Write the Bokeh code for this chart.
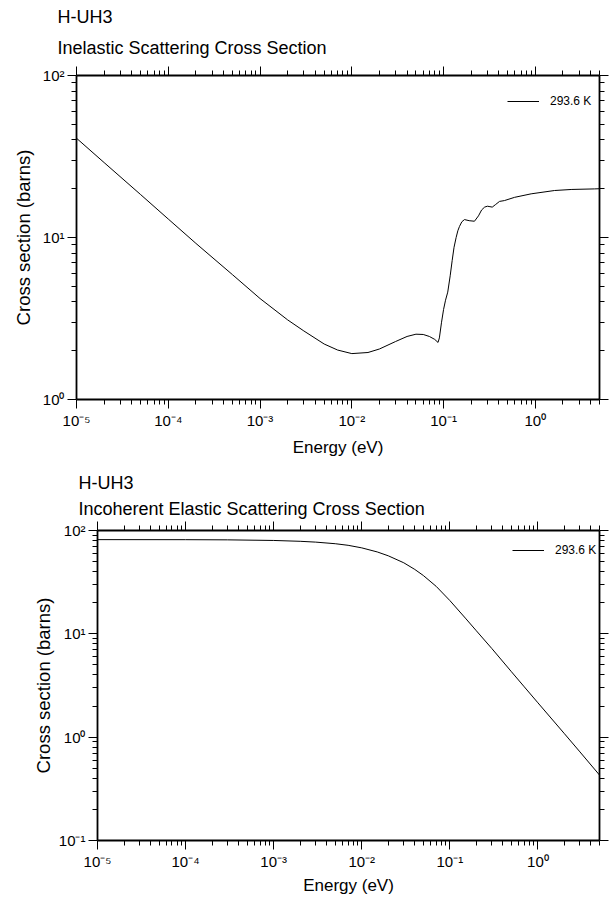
from bokeh.plotting import figure
from bokeh.models import (FixedTicker, Range1d, Legend, LegendItem, Title,
                          LogAxis, CustomJSTickFormatter)
from bokeh.embed import file_html
from bokeh.resources import INLINE

FONT = "Liberation Sans"

material = "H-UH3"
title_inel = "Inelastic Scattering Cross Section"
title_el = "Incoherent Elastic Scattering Cross Section"
x_label = "Energy (eV)"
y_label = "Cross section (barns)"
temp_label = "293.6 K"

# Inelastic scattering cross section (barns) vs energy (eV)
energy_inel = [1e-5, 2e-5, 5e-5, 1e-4, 2e-4, 5e-4, 1e-3, 2e-3, 3e-3, 5e-3,
               7e-3, 1e-2, 1.5e-2, 2e-2, 3e-2, 4e-2, 5e-2, 6e-2, 7e-2, 8e-2,
               0.087, 0.09, 0.095, 0.1, 0.105, 0.111, 0.118, 0.124, 0.13, 0.137,
               0.143, 0.149, 0.158, 0.169, 0.19, 0.217, 0.24, 0.26, 0.28, 0.30,
               0.32, 0.339, 0.37, 0.407, 0.46, 0.594, 0.9, 1.62, 2.5, 4.4, 5.0]
sigma_inel = [41.0, 29.0, 18.4, 13.0, 9.2, 5.9, 4.2, 3.1, 2.65, 2.2,
              2.02, 1.92, 1.95, 2.05, 2.28, 2.45, 2.53, 2.52, 2.45, 2.35,
              2.25, 2.4, 3.0, 3.6, 4.1, 4.6, 5.8, 7.2, 8.7, 10.0,
              11.0, 11.7, 12.5, 12.9, 12.7, 12.6, 13.6, 14.8, 15.4, 15.6,
              15.5, 15.4, 16.0, 16.7, 16.9, 17.7, 18.6, 19.5, 19.8, 19.95, 20.0]

# Incoherent elastic scattering cross section (barns) vs energy (eV)
energy_el = [1e-5, 1e-4, 3e-4, 1e-3, 2e-3, 3e-3, 5e-3, 7e-3, 1e-2, 1.5e-2,
             2e-2, 3e-2, 4e-2, 5e-2, 7e-2, 0.1, 0.15, 0.2, 0.3, 0.5,
             0.7, 1.0, 2.0, 3.0, 5.0]
sigma_el = [81.6, 81.5, 81.2, 80.1, 78.6, 77.2, 74.5, 71.9, 67.9, 62.0,
            56.9, 48.7, 42.0, 36.7, 28.8, 21.0, 14.2, 10.7, 7.2, 4.3,
            3.07, 2.15, 1.08, 0.72, 0.43]

x_ticks = [1e-5, 1e-4, 1e-3, 1e-2, 1e-1, 1e0]
x_tick_labels = ["10⁻⁵", "10⁻⁴", "10⁻³", "10⁻²", "10⁻¹", "10⁰"]
y_ticks_inel = [1, 10, 100]
y_tick_labels_inel = ["10⁰", "10¹", "10²"]
y_ticks_el = [0.1, 1, 10, 100]
y_tick_labels_el = ["10⁻¹", "10⁰", "10¹", "10²"]


def minor_list(lo, hi):
    out = []
    for k in range(-7, 3):
        for m in range(2, 10):
            v = m * 10.0 ** k
            if lo <= v <= hi:
                out.append(v)
    return out


def label_formatter(tick_values, tick_texts):
    return CustomJSTickFormatter(args=dict(tvals=tick_values, ttexts=tick_texts), code="""
        for (let i = 0; i < tvals.length; i++) {
            if (Math.abs(Math.log10(tvals[i]) - Math.log10(tick)) < 1e-6) return ttexts[i];
        }
        return "";
    """)


def style_axis(ax, show_labels, label_size="17px"):
    ax.axis_line_color = "black"
    ax.axis_line_width = 1.8
    ax.major_tick_line_color = "black"
    ax.minor_tick_line_color = "black"
    ax.major_tick_line_width = 1
    ax.minor_tick_line_width = 1
    ax.major_tick_in = 0
    ax.major_tick_out = 9
    ax.minor_tick_in = 0
    ax.minor_tick_out = 5
    ax.major_label_text_font = FONT
    ax.major_label_text_color = "black"
    ax.axis_label_text_font = FONT
    ax.axis_label_text_font_style = "normal"
    ax.axis_label_text_color = "black"
    ax.axis_label_text_font_size = label_size
    if show_labels:
        ax.major_label_text_font_size = "15px"
        ax.major_label_standoff = 3
    else:
        ax.major_label_text_font_size = "1px"
        ax.major_label_standoff = 0


def make_panel(energy, sigma, y_lo, y_hi, y_ticks, y_tick_labels, subtitle,
               height, left, top, bottom, title_dx, sub_standoff,
               main_standoff, legend_xy, xlabel_standoff, ylabel_standoff):
    p = figure(width=609, height=height, x_axis_type="log", y_axis_type="log",
               x_range=Range1d(1e-5, 5.0), y_range=Range1d(y_lo, y_hi),
               output_backend="svg", toolbar_location=None, title=None,
               min_border_left=left, min_border_right=10,
               min_border_top=top, min_border_bottom=bottom)
    p.xgrid.visible = False
    p.ygrid.visible = False
    p.outline_line_color = None
    p.background_fill_color = "white"
    p.border_fill_color = "white"

    xt = FixedTicker(ticks=x_ticks, minor_ticks=minor_list(1e-5, 5.0))
    yt = FixedTicker(ticks=y_ticks, minor_ticks=minor_list(y_lo, y_hi))

    xa = p.xaxis[0]
    xa.ticker = xt
    xa.formatter = label_formatter(x_ticks, x_tick_labels)
    xa.axis_label = x_label
    style_axis(xa, True, "17px")
    xa.axis_label_standoff = xlabel_standoff

    ya = p.yaxis[0]
    ya.ticker = yt
    ya.formatter = label_formatter(y_ticks, y_tick_labels)
    ya.axis_label = y_label
    style_axis(ya, True, "18.5px")
    ya.axis_label_standoff = ylabel_standoff

    top_ax = LogAxis(ticker=FixedTicker(ticks=x_ticks, minor_ticks=minor_list(1e-5, 5.0)),
                     formatter=CustomJSTickFormatter(code="return '';"))
    style_axis(top_ax, False)
    p.add_layout(top_ax, "above")
    right_ax = LogAxis(ticker=FixedTicker(ticks=y_ticks, minor_ticks=minor_list(y_lo, y_hi)),
                       formatter=CustomJSTickFormatter(code="return '';"))
    style_axis(right_ax, False)
    p.add_layout(right_ax, "right")

    sub = Title(text=subtitle, align="left", offset=title_dx, standoff=sub_standoff,
                text_font=FONT, text_font_size="18px", text_font_style="normal",
                text_color="black")
    main = Title(text=material, align="left", offset=title_dx, standoff=main_standoff,
                 text_font=FONT, text_font_size="18px", text_font_style="normal",
                 text_color="black")
    p.add_layout(sub, "above")
    p.add_layout(main, "above")

    r = p.line(energy, sigma, line_color="black", line_width=1)

    legend = Legend(items=[LegendItem(label=temp_label, renderers=[r])],
                    location=legend_xy, border_line_color=None,
                    background_fill_alpha=0, padding=0, margin=0, spacing=0,
                    glyph_width=32, glyph_height=12, label_height=12,
                    label_standoff=11, label_text_font=FONT,
                    label_text_font_size="12px", label_text_color="black")
    p.add_layout(legend)
    return p


p1 = make_panel(energy_inel, sigma_inel, 1.0, 100.0, y_ticks_inel, y_tick_labels_inel,
                title_inel, height=460, left=76, top=75, bottom=61, title_dx=-19,
                sub_standoff=18, main_standoff=0, legend_xy=(431, 291),
                xlabel_standoff=6, ylabel_standoff=6)
p2 = make_panel(energy_el, sigma_el, 0.1, 100.0, y_ticks_el, y_tick_labels_el,
                title_el, height=437, left=97, top=70, bottom=54, title_dx=-19,
                sub_standoff=6, main_standoff=2, legend_xy=(415, 283),
                xlabel_standoff=3, ylabel_standoff=2)

with open("out.html", "w") as f:
    f.write(file_html([p1, p2], INLINE))
